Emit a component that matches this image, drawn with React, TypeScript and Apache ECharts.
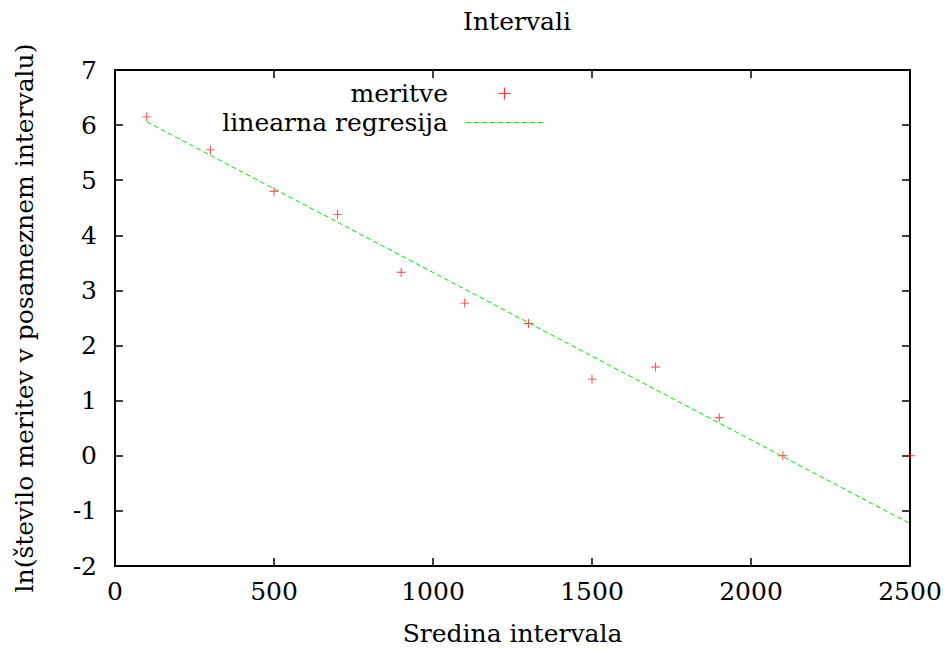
import React, { useEffect, useRef } from "react";
import * as echarts from "echarts";

const xCenters = [100, 300, 500, 700, 900, 1100, 1300, 1500, 1700, 1900, 2100, 2500];
const lnCounts = [6.15, 5.55, 4.80, 4.38, 3.33, 2.77, 2.40, 1.39, 1.61, 0.69, 0.0, 0.0];
const fitX = [100, 2500];
const fitY = [6.06, -1.23];
const xTicks = { min: 0, max: 2500, interval: 500 };
const yTicks = { min: -2, max: 7, interval: 1 };

const FONT = "DejaVu Serif";
const FS = 25;
const PLUS = "path://M-6,-0.6H6V0.6H-6Z M-0.6,-6H0.6V6H-0.6Z";
const DASH =
  "path://" +
  Array.from({ length: 10 }, (_, i) => `M${i * 8},0h5v1h-5z`).join(" ");

export default function App() {
  const ref = useRef<HTMLDivElement>(null);
  useEffect(() => {
    if (!ref.current) return;
    const chart = echarts.init(ref.current, undefined, { renderer: "svg" });
    const axisLine = { show: true, onZero: false, lineStyle: { color: "#000", width: 2 } };
    const axisTick = { show: true, inside: true, length: 8, lineStyle: { color: "#000", width: 1.5 } };
    const label = { fontFamily: FONT, fontSize: FS, color: "#000" };
    chart.setOption({
      animation: false,
      backgroundColor: "#fff",
      title: {
        text: "Intervali",
        left: 512,
        top: 4,
        textAlign: "center",
        textStyle: { fontFamily: FONT, fontSize: FS, fontWeight: "normal", color: "#000" },
      },
      grid: { left: 115, right: 39, top: 70, bottom: 87, containLabel: false },
      legend: {
        orient: "vertical",
        align: "right",
        right: 401,
        top: 74,
        itemWidth: 77,
        itemHeight: 12,
        itemGap: 0,
        formatter: (name: string) => `{t|${name}}`,
        textStyle: {
          fontFamily: FONT,
          fontSize: FS,
          color: "#000",
          lineHeight: 29,
          rich: { t: { fontFamily: FONT, fontSize: FS, color: "#000", lineHeight: 29, padding: [0, 13, 0, 0] } },
        },
        data: [
          { name: "meritve", icon: PLUS },
          { name: "linearna regresija", icon: DASH },
        ],
      },
      xAxis: [
        {
          type: "value",
          position: "bottom",
          ...xTicks,
          name: "Sredina intervala",
          nameLocation: "middle",
          nameGap: 55,
          nameTextStyle: label,
          axisLine,
          axisTick,
          splitLine: { show: false },
          axisLabel: { ...label, margin: 13, formatter: (v: number) => String(v) },
        },
        {
          type: "value",
          position: "top",
          ...xTicks,
          axisLine,
          axisTick,
          splitLine: { show: false },
          axisLabel: { show: false },
        },
      ],
      yAxis: [
        {
          type: "value",
          position: "left",
          ...yTicks,
          name: "ln(število meritev v posameznem intervalu)",
          nameLocation: "middle",
          nameGap: 78,
          nameTextStyle: label,
          axisLine,
          axisTick,
          splitLine: { show: false },
          axisLabel: { ...label, margin: 18 },
        },
        {
          type: "value",
          position: "right",
          ...yTicks,
          axisLine,
          axisTick,
          splitLine: { show: false },
          axisLabel: { show: false },
        },
      ],
      series: [
        {
          name: "meritve",
          type: "scatter",
          symbol: PLUS,
          symbolSize: 9,
          itemStyle: { color: "#ff0000" },
          data: xCenters.map((x, i) => [x, lnCounts[i]]),
        },
        {
          name: "linearna regresija",
          type: "line",
          showSymbol: false,
          symbol: "none",
          lineStyle: { color: "#00e600", width: 1, type: [5, 3] },
          itemStyle: { color: "#00e600" },
          data: fitX.map((x, i) => [x, fitY[i]]),
        },
      ],
    });
    return () => chart.dispose();
  }, []);
  return <div ref={ref} style={{ position: "fixed", left: 0, top: 0, width: 949, height: 653 }} />;
}
